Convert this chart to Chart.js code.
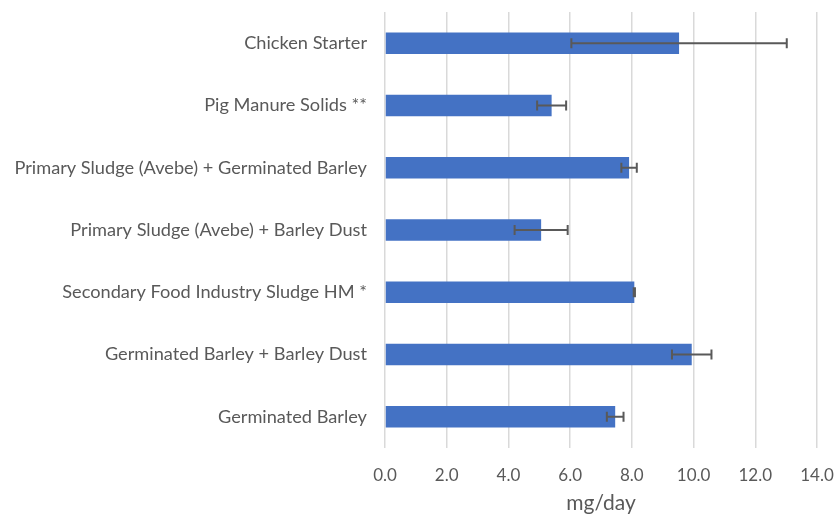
<!DOCTYPE html>
<html>
<head>
<meta charset="utf-8">
<script src="https://cdn.jsdelivr.net/npm/chart.js@4/dist/chart.umd.min.js"></script>
<style>
  body { margin: 0; background: #fff; }
  #wrap { width: 836px; height: 516px; }
</style>
</head>
<body>
<div id="wrap"><canvas id="chart"></canvas></div>
<script>
var categories = [
  "Chicken Starter",
  "Pig Manure Solids **",
  "Primary Sludge (Avebe) + Germinated Barley",
  "Primary Sludge (Avebe) + Barley Dust",
  "Secondary Food Industry Sludge HM *",
  "Germinated Barley + Barley Dust",
  "Germinated Barley"
];
var values = [9.53, 5.40, 7.91, 5.06, 8.08, 9.94, 7.46];
var errors = [3.49, 0.47, 0.25, 0.86, 0.02, 0.64, 0.27];
var xTicks = [0, 2, 4, 6, 8, 10, 12, 14];

var fontFamily = "Lato, 'Open Sans', sans-serif";
var grey = "#595959";

// draws the +/- error bars on top of each bar
var errorBars = {
  id: "errorBars",
  afterDatasetsDraw: function (chart) {
    var ctx = chart.ctx;
    var xs = chart.scales.x;
    var meta = chart.getDatasetMeta(0);
    ctx.save();
    ctx.strokeStyle = grey;
    ctx.lineWidth = 2;
    meta.data.forEach(function (bar, i) {
      var y = bar.y;
      var x1 = xs.getPixelForValue(values[i] - errors[i]);
      var x2 = xs.getPixelForValue(values[i] + errors[i]);
      ctx.beginPath();
      ctx.moveTo(x1, y); ctx.lineTo(x2, y);
      ctx.moveTo(x1, y - 5); ctx.lineTo(x1, y + 5);
      ctx.moveTo(x2, y - 5); ctx.lineTo(x2, y + 5);
      ctx.stroke();
    });
    ctx.restore();
  }
};

new Chart(document.getElementById("chart"), {
  type: "bar",
  data: {
    labels: categories,
    datasets: [{
      data: values,
      backgroundColor: "#4472C4",
      borderWidth: 0,
      barPercentage: 0.345,
      categoryPercentage: 1.0
    }]
  },
  options: {
    indexAxis: "y",
    responsive: true,
    maintainAspectRatio: false,
    animation: false,
    layout: { padding: { top: 12, right: 19, bottom: 0, left: 0 } },
    plugins: {
      legend: { display: false },
      tooltip: { enabled: false }
    },
    scales: {
      x: {
        min: 0,
        max: 14,
        afterBuildTicks: function (scale) {
          scale.ticks = xTicks.map(function (v) { return { value: v }; });
        },
        grid: { color: "#D9D9D9", lineWidth: 1.5, drawTicks: false },
        border: { display: false },
        ticks: {
          color: grey,
          padding: 17,
          font: { family: fontFamily, size: 17 },
          callback: function (v) { return Number(v).toFixed(1); }
        },
        title: {
          display: true,
          text: "mg/day",
          color: grey,
          padding: { top: 3, bottom: 0 },
          font: { family: fontFamily, size: 21 }
        },
        afterFit: function (scale) {
          scale.height = 68;
          scale.paddingLeft = 0;
          scale.paddingRight = 0;
        }
      },
      y: {
        grid: { display: false },
        border: { display: false },
        ticks: {
          color: grey,
          padding: 10,
          font: { family: fontFamily, size: 18.2 }
        },
        afterFit: function (scale) {
          scale.width = 385;
          scale.paddingTop = 0;
          scale.paddingBottom = 0;
        }
      }
    }
  },
  plugins: [errorBars]
});
</script>
</body>
</html>
